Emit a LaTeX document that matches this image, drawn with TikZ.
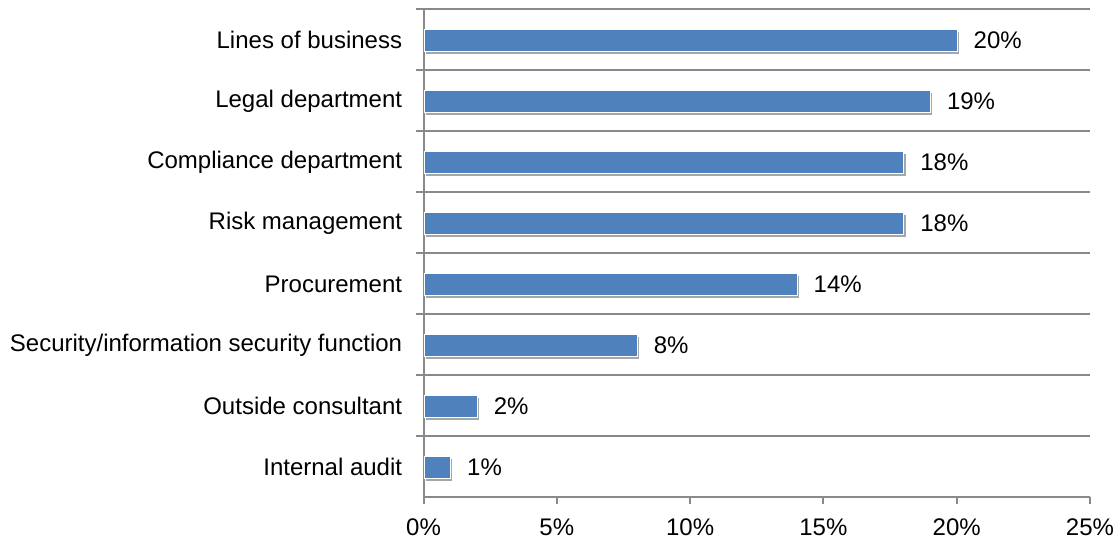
\documentclass[tikz,border=0pt]{standalone}
\usepackage{fontspec}
\setmainfont{Liberation Sans}
\usetikzlibrary{positioning, shadows}

\definecolor{barblue}{HTML}{4F81BD}
\definecolor{gridgray}{HTML}{898989}

\tikzset{
    bar/.style={fill=barblue, draw=white, line width=0.3pt, inner sep=0pt,
        minimum height=11pt, anchor=west,
        drop shadow={shadow xshift=1pt, shadow yshift=-1.5pt, opacity=0.35, fill=black}},
    cat/.style={inner sep=0pt, font=\fontsize{12}{14}\selectfont},
    val/.style={inner sep=0pt, font=\fontsize{12}{14}\selectfont},
    gridline/.style={draw=gridgray, line width=1pt}
}

\begin{document}
\begin{tikzpicture}[x=0.5pt, y=-0.5pt]
    \useasboundingbox (0,0) rectangle (1119,538);

    % grid and axes
    \foreach \k in {0,...,7}
        \draw[gridline] (416,9+61*\k) -- (1090,9+61*\k);
    \draw[gridline] (423.5,9) -- (423.5,497) -- (1090,497);
    \foreach \t in {0,5,...,25}
        \draw[gridline] (423.5+26.66*\t,497) -- (423.5+26.66*\t,504)
        node[val, below=7pt] (t\t) {\t\%};

    % bars
    \node[bar, minimum width=20*13.33pt] (lob) at (423.5,40) {};
    \node[bar, minimum width=19*13.33pt] (legal) at (423.5,101) {};
    \node[bar, minimum width=18*13.33pt] (compl) at (423.5,162) {};
    \node[bar, minimum width=18*13.33pt] (risk) at (423.5,223) {};
    \node[bar, minimum width=14*13.33pt] (proc) at (423.5,284) {};
    \node[bar, minimum width=8*13.33pt] (secu) at (423.5,345) {};
    \node[bar, minimum width=2*13.33pt] (outs) at (423.5,406) {};
    \node[bar, minimum width=1*13.33pt] (audit) at (423.5,467) {};

    % categories
    \node[cat, left=10.5pt of lob] (c-lob) {Lines of business};
    \node[cat, left=10.5pt of legal] (c-legal) {Legal department};
    \node[cat, left=10.5pt of compl] (c-compl) {Compliance department};
    \node[cat, left=10.5pt of risk] (c-risk) {Risk management};
    \node[cat, left=10.5pt of proc] (c-proc) {Procurement};
    \node[cat, left=10.5pt of secu] (c-secu) {Security/information security function};
    \node[cat, left=10.5pt of outs] (c-outs) {Outside consultant};
    \node[cat, left=10.5pt of audit] (c-audit) {Internal audit};

    % values
    \node[val, right=8pt of lob] (v-lob) {20\%};
    \node[val, right=8pt of legal] (v-legal) {19\%};
    \node[val, right=8pt of compl] (v-compl) {18\%};
    \node[val, right=8pt of risk] (v-risk) {18\%};
    \node[val, right=8pt of proc] (v-proc) {14\%};
    \node[val, right=8pt of secu] (v-secu) {8\%};
    \node[val, right=8pt of outs] (v-outs) {2\%};
    \node[val, right=8pt of audit] (v-audit) {1\%};
\end{tikzpicture}
\end{document}
